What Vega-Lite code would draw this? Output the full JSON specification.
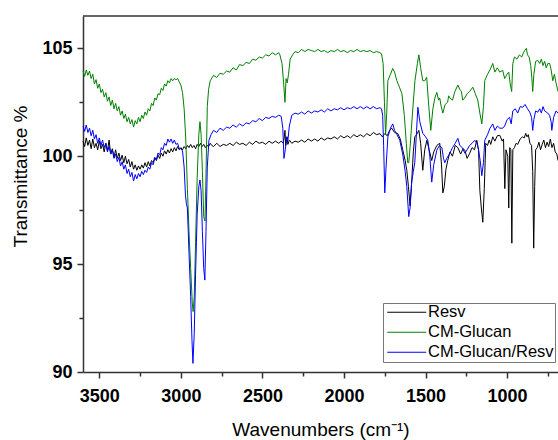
{
"$schema": "https://vega.github.io/schema/vega-lite/v6.json",
"autosize": "none",
"width": 475,
"height": 356,
"padding": {"left": 83, "top": 16, "right": 0, "bottom": 68},
"background": "white",
"config": {"view": {"stroke": null}, "font": "Liberation Sans"},
"datasets": {
"resv": [
{"wn":3600,"T":100.7},{"wn":3590,"T":100.45},{"wn":3580,"T":100.85},{"wn":3570,"T":100.5},{"wn":3560,"T":100.75},{"wn":3550,"T":100.35},{"wn":3540,"T":100.8},{"wn":3530,"T":100.4},{"wn":3520,"T":100.6},{"wn":3510,"T":100.3},{"wn":3500,"T":100.7},{"wn":3490,"T":100.35},{"wn":3480,"T":100.55},{"wn":3470,"T":100.2},{"wn":3460,"T":100.6},{"wn":3450,"T":100.25},{"wn":3440,"T":100.75},{"wn":3430,"T":100.1},{"wn":3420,"T":100.35},{"wn":3410,"T":99.95},{"wn":3400,"T":100.3},{"wn":3390,"T":99.9},{"wn":3380,"T":100.15},{"wn":3370,"T":99.8},{"wn":3360,"T":100.05},{"wn":3350,"T":99.7},{"wn":3340,"T":100.0},{"wn":3330,"T":99.65},{"wn":3320,"T":99.85},{"wn":3310,"T":99.5},{"wn":3300,"T":99.75},{"wn":3290,"T":99.4},{"wn":3280,"T":99.6},{"wn":3270,"T":99.35},{"wn":3260,"T":99.55},{"wn":3250,"T":99.4},{"wn":3240,"T":99.6},{"wn":3230,"T":99.45},{"wn":3220,"T":99.7},{"wn":3210,"T":99.5},{"wn":3200,"T":99.75},{"wn":3190,"T":99.55},{"wn":3180,"T":99.8},{"wn":3170,"T":99.7},{"wn":3160,"T":99.95},{"wn":3150,"T":99.8},{"wn":3140,"T":100.05},{"wn":3130,"T":99.9},{"wn":3120,"T":100.15},{"wn":3110,"T":100.0},{"wn":3100,"T":100.25},{"wn":3090,"T":100.1},{"wn":3080,"T":100.3},{"wn":3070,"T":100.15},{"wn":3060,"T":100.35},{"wn":3050,"T":100.2},{"wn":3040,"T":100.4},{"wn":3030,"T":100.25},{"wn":3020,"T":100.45},{"wn":3010,"T":100.3},{"wn":3000,"T":100.4},
{"wn":2990,"T":100.3},{"wn":2980,"T":100.45},{"wn":2970,"T":100.35},{"wn":2960,"T":100.5},{"wn":2950,"T":100.4},{"wn":2940,"T":100.55},{"wn":2930,"T":100.4},{"wn":2920,"T":100.5},{"wn":2910,"T":100.35},{"wn":2900,"T":100.55},{"wn":2890,"T":100.45},{"wn":2880,"T":100.6},{"wn":2870,"T":100.45},{"wn":2860,"T":100.55},{"wn":2850,"T":100.4},{"wn":2840,"T":100.5},{"wn":2830,"T":100.45},{"wn":2820,"T":100.6},{"wn":2810,"T":100.5},{"wn":2800,"T":100.45},
{"wn":2780,"T":100.6},{"wn":2760,"T":100.45},{"wn":2740,"T":100.55},{"wn":2720,"T":100.5},{"wn":2700,"T":100.6},{"wn":2680,"T":100.5},{"wn":2660,"T":100.65},{"wn":2640,"T":100.55},{"wn":2620,"T":100.6},{"wn":2600,"T":100.5},{"wn":2580,"T":100.65},{"wn":2560,"T":100.55},{"wn":2540,"T":100.7},{"wn":2520,"T":100.6},{"wn":2500,"T":100.65},{"wn":2480,"T":100.55},{"wn":2460,"T":100.7},{"wn":2440,"T":100.6},{"wn":2420,"T":100.7},{"wn":2400,"T":100.6},{"wn":2385,"T":100.7},{"wn":2372,"T":100.6},{"wn":2366,"T":100.9},{"wn":2362,"T":101.2},{"wn":2357,"T":100.5},{"wn":2350,"T":100.9},{"wn":2344,"T":100.55},{"wn":2335,"T":100.75},{"wn":2320,"T":100.6},{"wn":2300,"T":100.7},{"wn":2280,"T":100.65},{"wn":2260,"T":100.75},{"wn":2240,"T":100.65},{"wn":2220,"T":100.8},{"wn":2200,"T":100.7},{"wn":2180,"T":100.8},{"wn":2160,"T":100.7},{"wn":2140,"T":100.85},{"wn":2120,"T":100.75},{"wn":2100,"T":100.85},{"wn":2080,"T":100.8},{"wn":2060,"T":100.9},{"wn":2040,"T":100.8},{"wn":2020,"T":100.95},{"wn":2000,"T":100.85},{"wn":1980,"T":100.95},{"wn":1960,"T":100.85},{"wn":1940,"T":101.0},{"wn":1920,"T":100.9},{"wn":1900,"T":101.0},{"wn":1880,"T":100.9},{"wn":1860,"T":101.05},{"wn":1840,"T":100.95},{"wn":1820,"T":101.1},{"wn":1800,"T":101.0},
{"wn":1780,"T":101.05},{"wn":1765,"T":100.9},{"wn":1750,"T":101.05},{"wn":1735,"T":100.95},{"wn":1720,"T":101.2},{"wn":1707,"T":101.3},{"wn":1690,"T":101.1},{"wn":1670,"T":101.05},{"wn":1655,"T":100.8},{"wn":1640,"T":100.3},{"wn":1625,"T":99.8},{"wn":1615,"T":99.35},{"wn":1605,"T":98.6},{"wn":1595,"T":97.7},{"wn":1585,"T":98.8},{"wn":1575,"T":100.2},{"wn":1566,"T":100.9},{"wn":1555,"T":101.0},{"wn":1541,"T":101.2},{"wn":1530,"T":100.6},{"wn":1517,"T":99.35},{"wn":1505,"T":100.3},{"wn":1492,"T":100.74},{"wn":1478,"T":100.3},{"wn":1462,"T":99.8},{"wn":1450,"T":100.2},{"wn":1431,"T":100.5},{"wn":1413,"T":100.6},{"wn":1402,"T":99.6},{"wn":1394,"T":98.3},{"wn":1385,"T":98.6},{"wn":1375,"T":99.4},{"wn":1364,"T":99.8},{"wn":1350,"T":100.2},{"wn":1335,"T":100.0},{"wn":1318,"T":100.5},{"wn":1302,"T":100.4},{"wn":1285,"T":100.1},{"wn":1270,"T":100.35},{"wn":1259,"T":100.28},{"wn":1245,"T":99.9},{"wn":1229,"T":100.14},{"wn":1215,"T":100.4},{"wn":1200,"T":100.3},{"wn":1186,"T":100.74},{"wn":1175,"T":100.3},{"wn":1167,"T":98.4},{"wn":1158,"T":97.6},{"wn":1149,"T":96.94},{"wn":1140,"T":98.5},{"wn":1131,"T":100.6},{"wn":1120,"T":100.5},{"wn":1110,"T":100.75},{"wn":1100,"T":100.55},{"wn":1088,"T":100.9},{"wn":1075,"T":100.7},{"wn":1060,"T":100.95},{"wn":1045,"T":100.97},{"wn":1030,"T":100.7},{"wn":1022,"T":100.8},{"wn":1014,"T":98.5},{"wn":1007,"T":100.3},{"wn":996,"T":100.0},{"wn":990,"T":97.6},{"wn":984,"T":100.4},{"wn":977,"T":100.3},{"wn":971,"T":95.97},{"wn":965,"T":100.3},{"wn":955,"T":100.4},{"wn":945,"T":100.6},{"wn":935,"T":100.55},{"wn":920,"T":100.8},{"wn":905,"T":100.9},{"wn":895,"T":100.85},{"wn":886,"T":101.06},{"wn":878,"T":100.9},{"wn":870,"T":101.0},{"wn":860,"T":100.6},{"wn":850,"T":100.5},{"wn":843,"T":99.3},{"wn":837,"T":95.74},{"wn":831,"T":98.6},{"wn":825,"T":100.3},{"wn":815,"T":100.4},{"wn":805,"T":100.65},{"wn":795,"T":100.3},{"wn":785,"T":100.55},{"wn":775,"T":100.75},{"wn":765,"T":100.4},{"wn":755,"T":100.65},{"wn":745,"T":100.45},{"wn":735,"T":100.8},{"wn":725,"T":100.4},{"wn":715,"T":100.6},{"wn":705,"T":100.2},{"wn":695,"T":100.1},{"wn":688,"T":99.8}
],
"glucan": [
{"wn":3600,"T":103.95},{"wn":3590,"T":103.7},{"wn":3580,"T":104.0},{"wn":3570,"T":103.75},{"wn":3560,"T":103.95},{"wn":3550,"T":103.6},{"wn":3540,"T":103.8},{"wn":3530,"T":103.35},{"wn":3520,"T":103.55},{"wn":3510,"T":103.15},{"wn":3500,"T":103.35},{"wn":3490,"T":102.95},{"wn":3480,"T":103.1},{"wn":3470,"T":102.75},{"wn":3460,"T":102.95},{"wn":3450,"T":102.55},{"wn":3440,"T":102.75},{"wn":3430,"T":102.35},{"wn":3420,"T":102.6},{"wn":3410,"T":102.2},{"wn":3400,"T":102.45},{"wn":3390,"T":102.1},{"wn":3380,"T":102.3},{"wn":3370,"T":101.9},{"wn":3360,"T":102.1},{"wn":3350,"T":101.75},{"wn":3340,"T":101.95},{"wn":3330,"T":101.6},{"wn":3320,"T":101.8},{"wn":3310,"T":101.5},{"wn":3300,"T":101.7},{"wn":3290,"T":101.35},{"wn":3280,"T":101.65},{"wn":3270,"T":101.5},{"wn":3260,"T":101.8},{"wn":3250,"T":101.6},{"wn":3240,"T":101.9},{"wn":3230,"T":101.75},{"wn":3220,"T":102.05},{"wn":3210,"T":101.9},{"wn":3200,"T":102.2},{"wn":3190,"T":102.1},{"wn":3180,"T":102.45},{"wn":3170,"T":102.35},{"wn":3160,"T":102.7},{"wn":3150,"T":102.6},{"wn":3140,"T":102.9},{"wn":3130,"T":102.85},{"wn":3120,"T":103.15},{"wn":3110,"T":103.05},{"wn":3100,"T":103.35},{"wn":3090,"T":103.25},{"wn":3080,"T":103.5},{"wn":3070,"T":103.4},{"wn":3060,"T":103.6},{"wn":3050,"T":103.5},{"wn":3040,"T":103.6},{"wn":3030,"T":103.55},{"wn":3020,"T":103.6},{"wn":3010,"T":103.45},{"wn":3000,"T":103.3},
{"wn":2990,"T":102.95},{"wn":2980,"T":102.2},{"wn":2970,"T":100.8},{"wn":2960,"T":98.5},{"wn":2950,"T":96.5},{"wn":2940,"T":94.8},{"wn":2930,"T":93.2},{"wn":2925,"T":92.8},{"wn":2918,"T":93.5},{"wn":2910,"T":96.0},{"wn":2900,"T":99.0},{"wn":2890,"T":101.0},{"wn":2883,"T":101.6},{"wn":2876,"T":101.0},{"wn":2868,"T":99.3},{"wn":2860,"T":97.2},{"wn":2852,"T":97.0},{"wn":2845,"T":99.5},{"wn":2838,"T":102.3},{"wn":2830,"T":103.1},{"wn":2820,"T":103.5},
{"wn":2800,"T":103.75},{"wn":2780,"T":103.65},{"wn":2760,"T":103.85},{"wn":2740,"T":103.8},{"wn":2720,"T":103.95},{"wn":2700,"T":103.9},{"wn":2680,"T":104.1},{"wn":2660,"T":104.0},{"wn":2640,"T":104.25},{"wn":2620,"T":104.2},{"wn":2600,"T":104.35},{"wn":2580,"T":104.3},{"wn":2560,"T":104.5},{"wn":2540,"T":104.45},{"wn":2520,"T":104.6},{"wn":2500,"T":104.55},{"wn":2480,"T":104.7},{"wn":2460,"T":104.65},{"wn":2440,"T":104.8},{"wn":2420,"T":104.7},{"wn":2400,"T":104.8},{"wn":2393,"T":104.7},{"wn":2380,"T":104.3},{"wn":2370,"T":103.4},{"wn":2362,"T":102.5},{"wn":2355,"T":103.6},{"wn":2348,"T":103.4},{"wn":2340,"T":103.8},{"wn":2330,"T":104.5},{"wn":2315,"T":104.7},{"wn":2300,"T":104.85},{"wn":2280,"T":104.8},{"wn":2260,"T":104.95},{"wn":2240,"T":104.85},{"wn":2220,"T":104.95},{"wn":2200,"T":104.9},{"wn":2180,"T":104.85},{"wn":2160,"T":104.95},{"wn":2140,"T":104.85},{"wn":2120,"T":104.9},{"wn":2100,"T":104.8},{"wn":2080,"T":104.9},{"wn":2060,"T":104.85},{"wn":2040,"T":104.95},{"wn":2020,"T":104.85},{"wn":2000,"T":104.9},{"wn":1980,"T":104.8},{"wn":1960,"T":104.9},{"wn":1940,"T":104.85},{"wn":1920,"T":104.95},{"wn":1900,"T":104.85},{"wn":1880,"T":104.9},{"wn":1860,"T":104.85},{"wn":1840,"T":104.9},{"wn":1820,"T":104.8},{"wn":1800,"T":104.85},{"wn":1780,"T":104.8},
{"wn":1770,"T":104.75},{"wn":1760,"T":104.3},{"wn":1752,"T":102.5},{"wn":1745,"T":101.0},{"wn":1738,"T":102.0},{"wn":1731,"T":103.5},{"wn":1715,"T":103.8},{"wn":1701,"T":104.07},{"wn":1690,"T":103.9},{"wn":1676,"T":103.5},{"wn":1660,"T":103.2},{"wn":1645,"T":102.9},{"wn":1630,"T":101.9},{"wn":1618,"T":100.6},{"wn":1609,"T":99.7},{"wn":1603,"T":99.7},{"wn":1595,"T":100.4},{"wn":1580,"T":102.0},{"wn":1565,"T":103.5},{"wn":1550,"T":104.3},{"wn":1541,"T":104.7},{"wn":1530,"T":104.1},{"wn":1517,"T":103.5},{"wn":1505,"T":103.5},{"wn":1493,"T":103.66},{"wn":1480,"T":102.3},{"wn":1468,"T":101.2},{"wn":1455,"T":102.2},{"wn":1443,"T":102.7},{"wn":1431,"T":102.96},{"wn":1420,"T":102.6},{"wn":1413,"T":102.7},{"wn":1404,"T":102.3},{"wn":1394,"T":102.0},{"wn":1380,"T":102.4},{"wn":1365,"T":102.5},{"wn":1358,"T":102.8},{"wn":1351,"T":102.7},{"wn":1335,"T":102.6},{"wn":1320,"T":103.0},{"wn":1302,"T":103.3},{"wn":1290,"T":103.1},{"wn":1280,"T":103.0},{"wn":1272,"T":102.6},{"wn":1260,"T":102.7},{"wn":1245,"T":102.9},{"wn":1230,"T":103.0},{"wn":1210,"T":103.2},{"wn":1195,"T":102.9},{"wn":1180,"T":102.6},{"wn":1167,"T":102.0},{"wn":1155,"T":101.5},{"wn":1145,"T":102.3},{"wn":1137,"T":103.5},{"wn":1120,"T":103.8},{"wn":1105,"T":104.0},{"wn":1088,"T":104.3},{"wn":1075,"T":103.9},{"wn":1060,"T":104.1},{"wn":1045,"T":103.9},{"wn":1027,"T":103.98},{"wn":1015,"T":103.6},{"wn":1000,"T":103.8},{"wn":990,"T":103.9},{"wn":980,"T":103.3},{"wn":972,"T":103.0},{"wn":965,"T":104.3},{"wn":955,"T":104.6},{"wn":940,"T":104.5},{"wn":925,"T":104.7},{"wn":910,"T":104.6},{"wn":900,"T":104.8},{"wn":892,"T":104.9},{"wn":882,"T":105.0},{"wn":875,"T":104.7},{"wn":865,"T":104.6},{"wn":855,"T":104.2},{"wn":848,"T":103.6},{"wn":843,"T":103.0},{"wn":836,"T":103.8},{"wn":825,"T":104.4},{"wn":812,"T":104.44},{"wn":800,"T":104.3},{"wn":790,"T":104.5},{"wn":780,"T":104.2},{"wn":770,"T":104.4},{"wn":760,"T":104.1},{"wn":750,"T":104.3},{"wn":739,"T":104.3},{"wn":730,"T":104.0},{"wn":720,"T":103.5},{"wn":710,"T":103.8},{"wn":700,"T":103.4},{"wn":688,"T":103.0}
],
"complex": [
{"wn":3600,"T":101.4},{"wn":3590,"T":101.15},{"wn":3580,"T":101.45},{"wn":3570,"T":101.1},{"wn":3560,"T":101.3},{"wn":3550,"T":100.95},{"wn":3540,"T":101.2},{"wn":3530,"T":100.8},{"wn":3520,"T":101.0},{"wn":3510,"T":100.6},{"wn":3500,"T":100.85},{"wn":3490,"T":100.5},{"wn":3480,"T":100.75},{"wn":3470,"T":100.4},{"wn":3460,"T":100.6},{"wn":3450,"T":100.2},{"wn":3440,"T":100.45},{"wn":3430,"T":100.1},{"wn":3420,"T":100.3},{"wn":3410,"T":99.9},{"wn":3400,"T":100.1},{"wn":3390,"T":99.75},{"wn":3380,"T":99.95},{"wn":3370,"T":99.55},{"wn":3360,"T":99.75},{"wn":3350,"T":99.4},{"wn":3340,"T":99.6},{"wn":3330,"T":99.2},{"wn":3320,"T":99.4},{"wn":3310,"T":99.05},{"wn":3300,"T":99.25},{"wn":3290,"T":98.85},{"wn":3280,"T":99.15},{"wn":3270,"T":98.95},{"wn":3260,"T":99.2},{"wn":3250,"T":99.05},{"wn":3240,"T":99.3},{"wn":3230,"T":99.15},{"wn":3220,"T":99.35},{"wn":3210,"T":99.25},{"wn":3200,"T":99.5},{"wn":3190,"T":99.4},{"wn":3180,"T":99.7},{"wn":3170,"T":99.6},{"wn":3160,"T":99.9},{"wn":3150,"T":99.85},{"wn":3140,"T":100.15},{"wn":3130,"T":100.05},{"wn":3120,"T":100.4},{"wn":3110,"T":100.3},{"wn":3100,"T":100.6},{"wn":3090,"T":100.5},{"wn":3080,"T":100.8},{"wn":3070,"T":100.65},{"wn":3060,"T":100.8},{"wn":3050,"T":100.6},{"wn":3040,"T":100.75},{"wn":3030,"T":100.55},{"wn":3020,"T":100.6},{"wn":3010,"T":100.35},{"wn":3000,"T":100.35},
{"wn":2990,"T":100.25},{"wn":2980,"T":99.5},{"wn":2972,"T":98.2},{"wn":2966,"T":97.8},{"wn":2960,"T":97.6},{"wn":2950,"T":95.5},{"wn":2940,"T":93.5},{"wn":2932,"T":91.5},{"wn":2926,"T":90.4},{"wn":2918,"T":91.8},{"wn":2910,"T":94.5},{"wn":2900,"T":97.3},{"wn":2890,"T":98.6},{"wn":2883,"T":98.9},{"wn":2876,"T":98.4},{"wn":2868,"T":96.5},{"wn":2860,"T":94.8},{"wn":2853,"T":94.26},{"wn":2846,"T":96.5},{"wn":2838,"T":99.5},{"wn":2828,"T":100.74},{"wn":2815,"T":101.0},
{"wn":2800,"T":101.2},{"wn":2780,"T":101.1},{"wn":2760,"T":101.3},{"wn":2740,"T":101.2},{"wn":2720,"T":101.35},{"wn":2700,"T":101.3},{"wn":2680,"T":101.45},{"wn":2660,"T":101.35},{"wn":2640,"T":101.5},{"wn":2620,"T":101.4},{"wn":2600,"T":101.55},{"wn":2580,"T":101.5},{"wn":2560,"T":101.65},{"wn":2540,"T":101.6},{"wn":2520,"T":101.75},{"wn":2500,"T":101.65},{"wn":2480,"T":101.8},{"wn":2460,"T":101.75},{"wn":2440,"T":101.85},{"wn":2420,"T":101.8},{"wn":2400,"T":101.9},{"wn":2385,"T":101.85},{"wn":2375,"T":101.3},{"wn":2368,"T":99.9},{"wn":2360,"T":100.3},{"wn":2350,"T":100.9},{"wn":2344,"T":100.74},{"wn":2335,"T":101.4},{"wn":2320,"T":101.9},{"wn":2300,"T":102.0},{"wn":2280,"T":101.95},{"wn":2260,"T":102.05},{"wn":2240,"T":101.95},{"wn":2220,"T":102.1},{"wn":2200,"T":102.0},{"wn":2180,"T":102.1},{"wn":2160,"T":102.05},{"wn":2140,"T":102.15},{"wn":2120,"T":102.05},{"wn":2100,"T":102.2},{"wn":2080,"T":102.1},{"wn":2060,"T":102.2},{"wn":2040,"T":102.15},{"wn":2020,"T":102.25},{"wn":2000,"T":102.15},{"wn":1980,"T":102.25},{"wn":1960,"T":102.2},{"wn":1940,"T":102.3},{"wn":1920,"T":102.2},{"wn":1900,"T":102.3},{"wn":1880,"T":102.2},{"wn":1860,"T":102.3},{"wn":1840,"T":102.2},{"wn":1820,"T":102.3},{"wn":1800,"T":102.2},{"wn":1780,"T":102.25},
{"wn":1770,"T":102.2},{"wn":1763,"T":101.9},{"wn":1757,"T":100.5},{"wn":1750,"T":98.3},{"wn":1742,"T":99.5},{"wn":1731,"T":100.9},{"wn":1715,"T":101.3},{"wn":1701,"T":101.5},{"wn":1690,"T":101.2},{"wn":1675,"T":101.0},{"wn":1658,"T":100.74},{"wn":1640,"T":100.1},{"wn":1625,"T":99.3},{"wn":1615,"T":98.6},{"wn":1603,"T":97.2},{"wn":1595,"T":97.6},{"wn":1585,"T":98.8},{"wn":1575,"T":99.3},{"wn":1566,"T":99.7},{"wn":1555,"T":101.2},{"wn":1547,"T":102.27},{"wn":1535,"T":101.6},{"wn":1517,"T":101.06},{"wn":1500,"T":100.9},{"wn":1486,"T":100.74},{"wn":1474,"T":100.0},{"wn":1462,"T":98.8},{"wn":1450,"T":99.6},{"wn":1431,"T":100.28},{"wn":1415,"T":100.5},{"wn":1400,"T":100.4},{"wn":1390,"T":99.9},{"wn":1382,"T":99.7},{"wn":1370,"T":99.9},{"wn":1351,"T":100.14},{"wn":1335,"T":100.4},{"wn":1318,"T":100.6},{"wn":1302,"T":100.83},{"wn":1290,"T":100.5},{"wn":1275,"T":100.4},{"wn":1259,"T":100.14},{"wn":1245,"T":100.3},{"wn":1230,"T":100.5},{"wn":1215,"T":100.6},{"wn":1198,"T":100.74},{"wn":1185,"T":100.6},{"wn":1175,"T":100.3},{"wn":1165,"T":99.8},{"wn":1155,"T":99.1},{"wn":1145,"T":99.7},{"wn":1137,"T":100.74},{"wn":1120,"T":101.0},{"wn":1105,"T":101.3},{"wn":1088,"T":101.5},{"wn":1075,"T":101.2},{"wn":1060,"T":101.4},{"wn":1045,"T":101.3},{"wn":1027,"T":101.3},{"wn":1015,"T":101.4},{"wn":1000,"T":101.7},{"wn":985,"T":101.8},{"wn":975,"T":101.5},{"wn":965,"T":102.1},{"wn":950,"T":102.2},{"wn":935,"T":102.0},{"wn":920,"T":102.3},{"wn":904,"T":102.27},{"wn":890,"T":102.4},{"wn":875,"T":102.2},{"wn":861,"T":102.04},{"wn":850,"T":101.8},{"wn":843,"T":101.2},{"wn":836,"T":101.7},{"wn":825,"T":102.1},{"wn":812,"T":102.04},{"wn":800,"T":102.2},{"wn":790,"T":102.0},{"wn":780,"T":102.3},{"wn":770,"T":102.1},{"wn":751,"T":102.0},{"wn":740,"T":101.9},{"wn":730,"T":101.6},{"wn":726,"T":101.2},{"wn":715,"T":101.8},{"wn":700,"T":102.1},{"wn":688,"T":102.0}
]
},
"layer": [
{
"data": {"values": [{}]},
"mark": {"type": "rule", "color": "#333", "strokeWidth": 1.5},
"encoding": {"y": {"datum": 106.5, "type": "quantitative"}}
},
{
"data": {"name": "resv"},
"mark": {"type": "line", "strokeWidth": 1},
"encoding": {
"x": {"field": "wn", "type": "quantitative",
"scale": {"domain": [688, 3600], "reverse": true, "nice": false, "zero": false},
"axis": {"title": "Wavenumbers (cm⁻¹)", "values": [3500,3250,3000,2750,2500,2250,2000,1750,1500,1250,1000,750],
"format": "d", "labelExpr": "datum.value % 500 === 0 ? datum.label : ''",
"labelFlush": false, "labelOverlap": false, "grid": false,
"tickSize": {"condition": {"test": "datum.value % 500 !== 0", "value": 4}, "value": 6},
"tickColor": "#333", "tickWidth": 1.5, "domainColor": "#333", "domainWidth": 1.5,
"labelFont": "Liberation Sans", "labelFontWeight": "bold", "labelFontSize": 18, "labelColor": "#000", "labelPadding": 9,
"titleFont": "Liberation Sans", "titleFontWeight": "normal", "titleFontSize": 19, "titleColor": "#000", "titlePadding": 15}},
"y": {"field": "T", "type": "quantitative",
"scale": {"domain": [90, 106.5], "nice": false, "zero": false},
"axis": {"title": "Transmittance %", "values": [90,92.5,95,97.5,100,102.5,105],
"format": "d", "labelExpr": "datum.value % 5 === 0 ? datum.label : ''",
"labelOverlap": false, "grid": false,
"tickSize": {"condition": {"test": "datum.value % 5 !== 0", "value": 4}, "value": 6},
"tickColor": "#333", "tickWidth": 1.5, "domainColor": "#333", "domainWidth": 1.5,
"labelFont": "Liberation Sans", "labelFontWeight": "bold", "labelFontSize": 18, "labelColor": "#000", "labelPadding": 5,
"titleFont": "Liberation Sans", "titleFontWeight": "normal", "titleFontSize": 19, "titleColor": "#000", "titlePadding": 11, "titleY": 160}},
"color": {"datum": "Resv", "type": "nominal",
"scale": {"domain": ["Resv", "CM-Glucan", "CM-Glucan/Resv"], "range": ["#000000", "#008000", "#0000ff"]},
"legend": {"title": null, "orient": "none", "legendX": 300, "legendY": 287,
"symbolType": "M-4,0H4", "symbolSize": 95, "symbolStrokeWidth": 1.2, "symbolOffset": 14.5,
"labelFont": "Liberation Sans", "labelFontSize": 16.5, "labelColor": "#000", "labelOffset": 13,
"padding": 1, "rowPadding": 3, "strokeColor": "#777", "fillColor": "white"}}
}
},
{
"data": {"name": "glucan"},
"mark": {"type": "line", "strokeWidth": 1},
"encoding": {
"x": {"field": "wn", "type": "quantitative"},
"y": {"field": "T", "type": "quantitative"},
"color": {"datum": "CM-Glucan", "type": "nominal"}
}
},
{
"data": {"name": "complex"},
"mark": {"type": "line", "strokeWidth": 1},
"encoding": {
"x": {"field": "wn", "type": "quantitative"},
"y": {"field": "T", "type": "quantitative"},
"color": {"datum": "CM-Glucan/Resv", "type": "nominal"}
}
}
]
}
